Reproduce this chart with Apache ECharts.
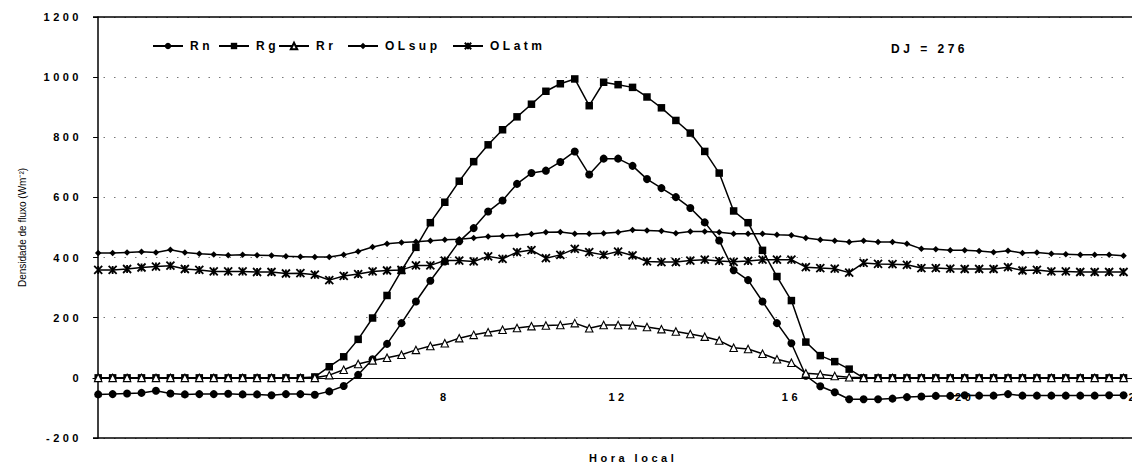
<!DOCTYPE html>
<html>
<head>
<meta charset="utf-8">
<script src="https://cdn.jsdelivr.net/npm/echarts@6/dist/echarts.min.js"></script>
<style>
  html, body { margin: 0; padding: 0; background: #fff; }
  #chart { width: 1132px; height: 467px; }
  /* spaced-out bold lettering for ticks, legend and captions */
  #chart text[style*="bold"] { letter-spacing: 3.5px; }
</style>
</head>
<body>
<div id="chart"></div>
<script>
// 20-minute sampling grid over the day (local hour)
const hours = Array.from({ length: 72 }, (_, k) => k / 3);

// Net radiation
const Rn = [-55,-54,-52,-50,-43,-52,-55,-54,-54,-53, -55,-55,-58,-54,-54,-56,-45,-27,10,62,
  113,182,254,323,387,454,498,553,590,645, 681,689,718,753,676,729,729,705,661,631,
  601,565,517,457,358,325,254,182,115,7, -28,-48,-71,-71,-71,-69,-64,-62,-60,-60,
  -58,-59,-59,-54,-59,-59,-59,-59,-59,-59, -58,-58];

// Global (incoming shortwave) radiation
const Rg = [0,0,0,0,0,0,0,0,0,0, 0,0,0,0,0,3,37,70,128,199,
  274,357,434,516,584,654,719,775,825,868, 910,953,978,994,905,983,975,966,934,898,
  856,814,753,681,555,516,424,337,257,119, 74,54,29,0,0,0,0,0,0,0,
  0,0,0,0,0,0,0,0,0,0, 0,0];

// Reflected shortwave radiation
const Rr = [0,0,0,0,0,0,0,0,0,0, 0,0,0,0,0,0,9,27,46,58,
  67,77,93,106,115,132,143,152,160,166, 172,174,176,182,165,176,176,175,169,162,
  154,146,137,124,100,96,80,62,50,15, 12,6,2,0,0,0,0,0,0,0,
  0,0,0,0,0,0,0,0,0,0, 0,0];

// Longwave emitted by the surface
const OLsup = [415,415,417,419,417,426,417,413,410,408, 409,408,407,404,403,402,402,409,420,435,
  446,450,453,456,459,461,465,470,472,474, 478,484,485,479,479,481,484,492,490,488,
  481,487,487,484,479,479,479,476,474,465, 459,456,452,456,452,452,446,429,428,424,
  424,422,418,423,415,417,413,411,409,409, 409,406];

// Atmospheric longwave
const OLatm = [359,359,362,367,370,373,362,359,354,354, 354,352,352,347,348,343,325,339,345,354,
  357,359,374,374,390,390,387,404,396,418, 425,398,409,429,418,409,420,407,387,385,
  385,390,393,389,386,389,393,393,393,368, 365,363,350,382,379,378,376,365,365,363,
  362,362,362,368,357,359,354,354,352,352, 352,352];

const hourLabels = [8, 12, 16, 20, 24];
const seriesNames = ['Rn', 'Rg', 'Rr', 'OLsup', 'OLatm'];

const FONT = "'Liberation Sans', Arial, sans-serif";
const pairs = arr => hours.map((h, i) => [h, arr[i]]);

const baseLine = {
  type: 'line',
  lineStyle: { color: '#000', width: 1.5 },
  itemStyle: { color: '#000' },
  emphasis: { disabled: true },
  z: 3
};

const legendAt = (name, left) => ({
  data: [name],
  left: left,
  top: 40,
  padding: 0,
  itemWidth: 30,
  itemHeight: 8,
  itemGap: 0,
  selectedMode: false,
  textStyle: { fontFamily: FONT, fontSize: 12, fontWeight: 'bold', color: '#000', padding: [0, 0, 0, 2] }
});

const captionStyle = size => ({ fontFamily: FONT, fontSize: size, fontWeight: 'bold', color: '#000' });

const chart = echarts.init(document.getElementById('chart'), null, { renderer: 'svg' });

chart.setOption({
  animation: false,
  backgroundColor: '#fff',
  title: [
    { text: 'DJ = 276', left: 891, top: 43, padding: 0, textStyle: captionStyle(12) },
    // x-axis caption
    { text: 'Hora local', left: 589, top: 452, padding: 0, textStyle: captionStyle(11) }
  ],
  legend: [
    legendAt('Rn', 152),
    legendAt('Rg', 218),
    legendAt('Rr', 278),
    legendAt('OLsup', 347),
    legendAt('OLatm', 452)
  ],
  grid: { left: 93, right: -6, top: 17, bottom: 29, outerBoundsMode: 'none', containLabel: false },
  xAxis: {
    type: 'value',
    min: -0.12,
    max: 24,
    axisLine: { onZero: true, lineStyle: { color: '#000', width: 1.2 } },
    axisTick: { show: false },
    axisLabel: {
      customValues: hourLabels,
      // hour labels sit just under the zero line
      margin: -47,
      formatter: v => String(v),
      fontFamily: FONT, fontSize: 11, fontWeight: 'bold', color: '#000'
    },
    splitLine: { show: false }
  },
  yAxis: {
    type: 'value',
    min: -200,
    max: 1200,
    interval: 200,
    axisLine: { show: true, lineStyle: { color: '#000', width: 1.5 } },
    axisTick: { show: true, length: 5, lineStyle: { color: '#000' } },
    axisLabel: {
      margin: 11,
      formatter: v => String(v),
      fontFamily: FONT, fontSize: 11, fontWeight: 'bold', color: '#000'
    },
    splitLine: { show: true, lineStyle: { color: '#777', width: 1, type: [1.5, 9] } },
    name: 'Densidade de fluxo (Wm⁻²)',
    nameLocation: 'middle',
    nameGap: 66,
    nameTextStyle: { fontFamily: FONT, fontSize: 10, color: '#000' }
  },
  series: [
    Object.assign({}, baseLine, {
      name: seriesNames[0], data: pairs(Rn), symbol: 'circle', symbolSize: 8,
      markLine: {
        silent: true, symbol: 'none', label: { show: false },
        lineStyle: { color: '#000', width: 1.5, type: 'solid' },
        data: [{ yAxis: 1200 }, { yAxis: -200 }]
      }
    }),
    Object.assign({}, baseLine, {
      name: seriesNames[1], data: pairs(Rg), symbol: 'rect', symbolSize: 7.5
    }),
    Object.assign({}, baseLine, {
      name: seriesNames[2], data: pairs(Rr), symbol: 'triangle', symbolSize: 7.5,
      itemStyle: { color: '#fff', borderColor: '#000', borderWidth: 1.1 }
    }),
    Object.assign({}, baseLine, {
      name: seriesNames[3], data: pairs(OLsup), symbol: 'diamond', symbolSize: 6.5
    }),
    Object.assign({}, baseLine, {
      name: seriesNames[4], data: pairs(OLatm),
      symbol: 'path://M0,0L10,10M10,0L0,10M5,0L5,10', symbolSize: 8,
      itemStyle: { color: '#000', borderColor: '#000', borderWidth: 1.8 }
    })
  ]
});
</script>
</body>
</html>
